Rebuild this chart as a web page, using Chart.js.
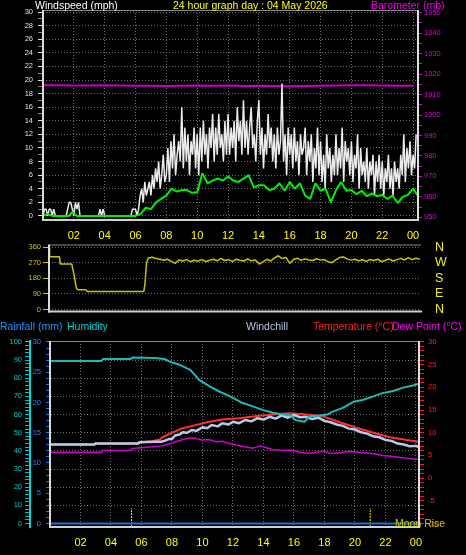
<!DOCTYPE html>
<html>
<head>
<meta charset="utf-8">
<script src="https://cdn.jsdelivr.net/npm/chart.js@4.4.1/dist/chart.umd.min.js"></script>
<style>
  body { margin: 0; background: #000; width: 466px; height: 555px; overflow: hidden; position: relative;
         font-family: "Liberation Sans", Arial, sans-serif; }
  canvas { position: absolute; left: 0; }
  .t { position: absolute; font-size: 10.5px; line-height: 1; white-space: nowrap; z-index: 5; }
</style>
</head>
<body>
<canvas id="windChart" width="466" height="245" style="top:0"></canvas>
<canvas id="dirChart" width="466" height="84" style="top:236px"></canvas>
<canvas id="tempChart" width="466" height="239" style="top:316px"></canvas>

<div class="t" style="left:35px;top:0;color:#fff">Windspeed (mph)</div>
<div class="t" style="left:173px;top:0;color:#ffff00">24 hour graph day : 04 May 2026</div>
<div class="t" style="left:371px;top:0;color:#ee00ee">Barometer (mb)</div>
<div class="t" style="left:0;top:321px;color:#2090ff">Rainfall (mm)</div>
<div class="t" style="left:67px;top:321px;color:#00d0d0">Humidity</div>
<div class="t" style="left:246px;top:321px;color:#b0c4de">Windchill</div>
<div class="t" style="left:313px;top:321px;color:#ff2020">Temperature (°C)</div>
<div class="t" style="left:392px;top:321px;color:#ff00ff">Dew Point (°C)</div>
<div class="t" style="left:395px;top:518px;color:#c8c800">Moon Rise</div>

<script>
// hour ticks on the time axes
const hourTicks = [2, 4, 6, 8, 10, 12, 14, 16, 18, 20, 22, 24];

// wind gust (mph), one reading every 6 minutes from 00:00
const gustMph = [
  0, 1, 1, 0, 1, 1, 0, 1, 0, 0,
  0, 0, 0, 0, 0, 0, 1, 2, 2, 1,
  0, 2, 1, 2, 0, 0, 0, 0, 0, 0,
  0, 0, 0, 0, 0, 0, 0, 1, 0, 1,
  0, 0, 0, 0, 0, 0, 0, 0, 0, 0,
  0, 0, 0, 0, 0, 0, 0, 0, 1, 1,
  1, 0, 1, 3, 4, 2, 5, 3, 4, 5,
  3, 6, 4, 7, 5, 8, 4, 6, 9, 5,
  6, 10, 5, 11, 7, 12, 6, 9, 11, 8,
  16, 7, 13, 8, 12, 6, 11, 9, 13, 7,
  12, 6, 13, 8, 14, 9, 12, 7, 13, 10,
  15, 8, 13, 9, 15, 10, 12, 8, 14, 9,
  15, 9, 13, 10, 14, 8, 16, 11, 14, 9,
  17, 10, 14, 9, 13, 16, 10, 12, 8, 14,
  17, 9, 13, 7, 12, 9, 15, 10, 13, 8,
  12, 7, 13, 9, 11, 19.5, 8, 12, 6, 13,
  9, 12, 7, 13, 8, 11, 6, 12, 9, 10,
  13, 6, 11, 8, 12, 5, 10, 7, 13, 6,
  11, 5, 9, 4, 12, 7, 10, 5, 9, 6,
  12, 6, 10, 7, 13, 5, 11, 8, 10, 6,
  11, 5, 9, 7, 12, 4, 10, 6, 8, 5,
  10, 4, 8, 6, 9, 3, 8, 5, 9, 4,
  8, 3, 7, 5, 9, 4, 7, 3, 8, 5,
  7, 4, 9, 6, 12, 5, 10, 7, 11, 6,
  9, 7, 12
];

// average wind (mph): quiet night, then one reading every 20 minutes from 06:00
const windAvgNightHours = [0, 0.3, 0.6, 1.7, 1.9, 2.2];
const windAvgNightMph = [0, 0.3, 0, 0, 0.6, 0];
const windAvgDayMph = [
  0, 0.3, 1.2, 1, 2, 2.5, 3, 4, 3.6, 3.8, 3.8, 3.4, 3.5, 6.3, 4.8, 5.2, 5.5, 5.2,
  5.8, 5.2, 5.0, 5.5, 6.0, 4.2, 4.5, 4.5, 3.8, 4.0, 4.8, 3.7, 5.0, 4.0, 4.8, 3.0,
  2.5, 4.8, 3.7, 4.0, 2.0, 3.8, 5.0, 3.7, 3.8, 3.2, 3.7, 2.9, 3.3, 2.9, 3.1, 2.5,
  3.0, 1.9, 2.8, 3.1, 4.0, 2.9
];

// barometer (mb), hourly
const baroMb = [
  1014.5, 1014.5, 1014.4, 1014.4, 1014.5, 1014.4, 1014.3, 1014.3, 1014.2, 1014.3,
  1014.4, 1014.3, 1014.4, 1014.2, 1014.3, 1014.2, 1014.1, 1014.2, 1014.3, 1014.4,
  1014.5, 1014.5, 1014.4, 1014.3, 1014.3
];

// wind direction (degrees)
const dirNightHours = [0, 0.04, 0.68, 0.74, 1.49, 1.64, 1.79, 1.9, 2.4, 2.5, 6.2, 6.28, 6.38];
const dirNightDeg = [358, 305, 305, 262, 262, 199, 123, 114, 114, 104, 104, 150, 270];
// every 15 minutes from 06:30
const dirDayDeg = [
  297, 302, 294, 290, 284, 290, 278, 266, 286, 280,
  288, 276, 284, 279, 288, 276, 284, 290, 281, 295,
  283, 288, 278, 290, 284, 280, 292, 281, 286, 262,
  275, 290, 280, 298, 310, 294, 300, 266, 290, 296,
  284, 292, 286, 283, 293, 285, 288, 276, 270, 286,
  300, 303, 292, 285, 290, 281, 287, 278, 289, 283,
  290, 276, 284, 291, 280, 288, 295, 286, 299, 288,
  296, 290
];

// humidity (%)
const humHours = [0, 3.4, 3.45, 5.3, 5.4, 6.9, 7.5, 7.9, 8.5, 9.2, 9.8, 10.5, 11.1, 11.8, 12.0, 12.6,
  13.3, 13.95, 14.6, 15.3, 15.8, 16.1, 16.4, 16.7, 17.0, 17.7, 18.2, 18.5, 19.2, 19.9, 20.5, 21.2,
  21.8, 22.5, 23.1, 23.8, 24.2];
const humPct = [89.5, 89.5, 90.6, 90.6, 91.4, 91.2, 90.6, 89, 87.4, 84.6, 79, 75.4, 72.7, 70, 69.2, 66.5,
  64.5, 62.6, 61, 60, 59.5, 57, 56.5, 56, 59, 59.5, 60, 61.5, 63.7, 67, 68, 70,
  71.8, 73, 74.7, 76, 77];

// temperature (°C)
const tempHours = [0, 2.9, 2.95, 5.8, 5.85, 6.7, 7.2, 7.4, 8.0, 8.7, 9.2, 10.3, 11.3, 12.4, 13.6,
  14.6, 15.7, 16.8, 17.9, 19.0, 20.1, 21.2, 22.3, 23.4, 24.2];
const tempC = [7.4, 7.4, 7.6, 7.6, 7.9, 8.1, 8.5, 9.0, 10.0, 11.0, 11.4, 12.3, 12.9, 13.2, 13.7,
  14.0, 14.3, 14.0, 13.6, 12.3, 11.1, 10.0, 9.0, 8.4, 8.0];

// windchill (°C)
const chillHours = [0, 2.9, 2.95, 5.8, 5.85, 6.9, 7.3, 7.5, 7.8, 8.0, 8.2, 8.5, 8.7, 9.0, 9.3, 9.6,
  10.0, 10.3, 10.6, 11.0, 11.3, 11.7, 12.0, 12.4, 12.8, 13.2, 13.6, 14.0, 14.4, 14.8, 15.2, 15.6,
  16.0, 16.4, 16.8, 17.2, 17.6, 18.0, 18.4, 18.8, 19.2, 19.6, 20.0, 20.4, 20.8, 21.2, 21.6, 22.0,
  22.4, 22.8, 23.2, 23.6, 24.0, 24.2];
const chillC = [7.4, 7.4, 7.6, 7.6, 7.9, 8.0, 8.0, 8.2, 8.6, 8.6, 9.4, 9.6, 10.1, 10.0, 10.6, 10.4,
  11.2, 11.0, 11.7, 11.4, 12.1, 11.8, 12.4, 12.1, 12.8, 12.5, 13.2, 12.9, 13.5, 13.1, 13.8, 13.3,
  13.9, 13.4, 13.5, 13.0, 13.3, 12.6, 12.3, 11.8, 11.5, 10.9, 10.7, 10.1, 9.8, 9.2, 9.0, 8.4,
  8.2, 7.6, 7.4, 7.0, 7.1, 6.8];

// dew point (°C)
const dewHours = [0, 3.35, 3.4, 5.3, 5.4, 6.7, 7.3, 7.9, 8.7, 9.3, 9.6, 10.0, 10.4, 10.9, 11.3, 11.8,
  12.0, 12.6, 13.3, 13.8, 14.2, 14.6, 15.3, 15.8, 16.4, 17.0, 17.4, 17.9, 18.5, 19.2, 19.7, 20.2,
  20.7, 21.3, 21.8, 22.4, 22.9, 23.4, 23.8, 24.2];
const dewC = [5.7, 5.7, 6.1, 6.1, 6.5, 6.9, 7.1, 7.6, 8.5, 8.9, 8.7, 8.4, 8.5, 8.0, 8.1, 7.6,
  7.4, 7.0, 6.6, 7.1, 6.7, 6.3, 6.1, 6.2, 5.7, 5.4, 5.7, 5.9, 5.4, 5.7, 5.9, 5.7,
  5.6, 5.3, 5.0, 4.8, 4.6, 4.4, 4.2, 4.1];

// rainfall (mm)
const rainHours = [0, 24.2];
const rainMm = [0, 0];

// moon rise times
const moonRiseHours = [5.35, 21.0];

// ---- helpers
const xy = (xs, ys) => ys.map((y, i) => ({ x: xs[i], y: y }));
const gustHours = gustMph.map((v, i) => i / 10);
const windAvgHours = windAvgNightHours.concat(windAvgDayMph.map((v, i) => 6 + i / 3));
const windAvgMph = windAvgNightMph.concat(windAvgDayMph);
const baroHours = baroMb.map((v, i) => i);
const dirHours = dirNightHours.concat(dirDayDeg.map((v, i) => 6.5 + i * 0.25));
const dirDeg = dirNightDeg.concat(dirDayDeg);

const gridGray = '#6c6c6c';
const dots = [1, 2];
const font = size => ({ family: 'Liberation Sans', size: size });
const hourLabel = v => String(v % 24).padStart(2, '0');
const steps = (a, b, s) => { let t = []; for (let v = a; v <= b + 1e-9; v += s) t.push({ value: Math.round(v * 100) / 100 }); return t; };
const isMajor = (c, m) => c.tick && Math.abs(c.tick.value % m) < 1e-6;

// plot frame
const frame = {
  id: 'frame',
  afterDraw(chart, args, o) {
    const { ctx, chartArea: a } = chart;
    const line = (x1, y1, x2, y2, c, w) => {
      if (!c) return;
      ctx.strokeStyle = c; ctx.lineWidth = w;
      ctx.beginPath(); ctx.moveTo(x1, y1); ctx.lineTo(x2, y2); ctx.stroke();
    };
    ctx.save();
    line(a.left, a.top + 0.5, a.right, a.top + 0.5, o.top, 1);
    line(a.left, a.top, a.left, a.bottom + 1, o.left, 2);
    line(a.left - 1, a.bottom, a.right + 1, a.bottom, o.bottom, 2);
    line(a.right, a.top, a.right, a.bottom + 1, o.right, 2);
    ctx.restore();
  }
};

const common = {
  responsive: false,
  animation: false,
  events: [],
  elements: { point: { radius: 0 }, line: { tension: 0, borderJoinStyle: 'bevel' } },
};

// ---- windspeed / barometer
new Chart(document.getElementById('windChart'), {
  type: 'line',
  data: {
    datasets: [
      { data: xy(windAvgHours, windAvgMph), yAxisID: 'y', borderColor: '#00f000', borderWidth: 2 },
      { data: xy(gustHours, gustMph), yAxisID: 'y', borderColor: '#ececec', borderWidth: 1.5 },
      { data: xy(baroHours, baroMb), yAxisID: 'baro', borderColor: '#c400c4', borderWidth: 2 }
    ]
  },
  plugins: [frame],
  options: {
    ...common,
    layout: { padding: { top: 10 } },
    plugins: { legend: { display: false }, tooltip: { enabled: false },
      frame: { top: '#8a8a8a', left: '#dcdcdc', bottom: '#d0d0d0', right: '#e0e0e0' } },
    scales: {
      x: {
        type: 'linear', min: 0, max: 24.32, bounds: 'data',
        afterBuildTicks: s => { s.ticks = hourTicks.map(v => ({ value: v })); },
        afterFit: s => { s.height = 25; },
        grid: { color: gridGray, drawTicks: false },
        border: { display: false, dash: dots },
        ticks: { color: '#ffff00', font: font(11), padding: 9, maxRotation: 0, autoSkip: false, callback: hourLabel }
      },
      y: {
        position: 'left', min: -0.6, max: 30.3, bounds: 'data',
        afterBuildTicks: s => { s.ticks = steps(0, 30, 1); },
        afterFit: s => { s.width = 43; },
        grid: { color: c => isMajor(c, 2) ? gridGray : 'transparent',
                tickColor: c => isMajor(c, 2) ? '#e0e0e0' : '#808080', tickLength: 5 },
        border: { display: false, dash: dots },
        ticks: { color: '#d4e2ff', font: font(7.5), padding: 5, autoSkip: false,
                 callback: v => v % 2 === 0 ? v : '' }
      },
      baro: {
        position: 'right', min: 948.7, max: 1051.3, bounds: 'data',
        afterBuildTicks: s => { s.ticks = steps(950, 1050, 5); },
        afterFit: s => { s.width = 48; },
        grid: { drawOnChartArea: false, tickColor: '#d000d0', tickLength: 4 },
        border: { display: false },
        ticks: { color: '#e000e0', font: font(7.5), padding: 2, autoSkip: false,
                 callback: v => v % 10 === 0 ? v : '' }
      }
    }
  }
});

// ---- wind direction
const compass = ['N', 'E', 'S', 'W', 'N'];
new Chart(document.getElementById('dirChart'), {
  type: 'line',
  data: {
    datasets: [
      { data: xy(dirHours, dirDeg), yAxisID: 'dir', borderColor: '#c8c400', borderWidth: 1.5 }
    ]
  },
  plugins: [frame],
  options: {
    ...common,
    layout: { padding: { top: 8, bottom: 8 } },
    plugins: { legend: { display: false }, tooltip: { enabled: false },
      frame: { top: '#8a8a8a', left: '#dcdcdc', bottom: '#d0d0d0' } },
    scales: {
      x: { type: 'linear', display: false, min: 0, max: 24.33 },
      dir: {
        position: 'left', min: -11, max: 375, bounds: 'data',
        afterBuildTicks: s => { s.ticks = steps(0, 360, 90); },
        afterFit: s => { s.width = 49; },
        grid: { color: gridGray, tickColor: '#c8c800', tickLength: 6 },
        border: { display: false, dash: dots },
        ticks: { color: '#c8c800', font: font(7.5), padding: 2, autoSkip: false }
      },
      compass: {
        position: 'right', min: -11, max: 375, bounds: 'data',
        afterBuildTicks: s => { s.ticks = steps(0, 360, 90); },
        afterFit: s => { s.width = 45; },
        grid: { drawOnChartArea: false, tickColor: 'transparent', tickLength: 13 },
        border: { display: false },
        ticks: { color: '#f0f000', font: font(12.5), padding: 1, autoSkip: false,
                 callback: v => compass[v / 90] }
      }
    }
  }
});

// ---- temperature / humidity / rainfall
const moonSets = moonRiseHours.map(h => ({
  data: [{ x: h, y: -0.6 }, { x: h, y: 2.5 }], yAxisID: 'rain',
  borderColor: '#ffff00', borderWidth: 1, borderDash: [2, 1]
}));
new Chart(document.getElementById('tempChart'), {
  type: 'line',
  data: {
    datasets: [
      { data: xy(humHours, humPct), yAxisID: 'hum', borderColor: '#20b8b8', borderWidth: 2 },
      { data: xy(chillHours, chillC), yAxisID: 'temp', borderColor: '#b4cbec', borderWidth: 2.5 },
      { data: xy(tempHours, tempC), yAxisID: 'temp', borderColor: '#ff3030', borderWidth: 2 },
      { data: xy(dewHours, dewC), yAxisID: 'temp', borderColor: '#d000d0', borderWidth: 1.5 },
      { data: xy(rainHours, rainMm), yAxisID: 'rain', borderColor: '#1e6ed0', borderWidth: 2 },
      ...moonSets
    ]
  },
  plugins: [frame],
  options: {
    ...common,
    layout: { padding: { top: 25 } },
    plugins: { legend: { display: false }, tooltip: { enabled: false },
      frame: { top: '#8a8a8a', left: '#dcdcdc', bottom: '#d0d0d0', right: '#e0e0e0' } },
    scales: {
      x: {
        type: 'linear', min: 0, max: 24.2, bounds: 'data',
        afterBuildTicks: s => { s.ticks = hourTicks.map(v => ({ value: v })); },
        afterFit: s => { s.height = 28; },
        grid: { color: gridGray, drawTicks: false },
        border: { display: false, dash: dots },
        ticks: { color: '#ffff00', font: font(11), padding: 9, maxRotation: 0, autoSkip: false, callback: hourLabel }
      },
      hum: {
        position: 'left', weight: 2, min: -1.9, max: 100.5, bounds: 'data',
        afterBuildTicks: s => { s.ticks = steps(0, 100, 2); },
        afterFit: s => { s.width = 30; },
        grid: { color: c => isMajor(c, 10) ? gridGray : 'transparent', tickColor: '#00c0c0', tickLength: 5 },
        border: { display: true, color: '#00d8d8', width: 2, dash: dots },
        ticks: { color: '#00c8c8', font: font(7.5), padding: 3, autoSkip: false,
                 callback: v => v % 10 === 0 ? v : '' }
      },
      rain: {
        position: 'left', weight: 1, min: -0.58, max: 30.16, bounds: 'data',
        afterBuildTicks: s => { s.ticks = steps(0, 30, 1); },
        afterFit: s => { s.width = 20; },
        grid: { drawOnChartArea: false, tickColor: '#1e78e0', tickLength: 4 },
        border: { display: false },
        ticks: { color: '#2080ff', font: font(7.5), padding: 5, autoSkip: false,
                 callback: v => v % 5 === 0 ? v : '' }
      },
      temp: {
        position: 'right', min: -10.77, max: 30.2, bounds: 'data',
        afterBuildTicks: s => { s.ticks = steps(-10, 30, 1); },
        afterFit: s => { s.width = 47; },
        grid: { drawOnChartArea: false, tickColor: '#e02020', tickLength: 5 },
        border: { display: false },
        ticks: { color: '#ff2020', font: font(7.5), padding: 4, autoSkip: false,
                 callback: v => v % 5 === 0 ? v : '' }
      }
    }
  }
});
</script>
</body>
</html>
